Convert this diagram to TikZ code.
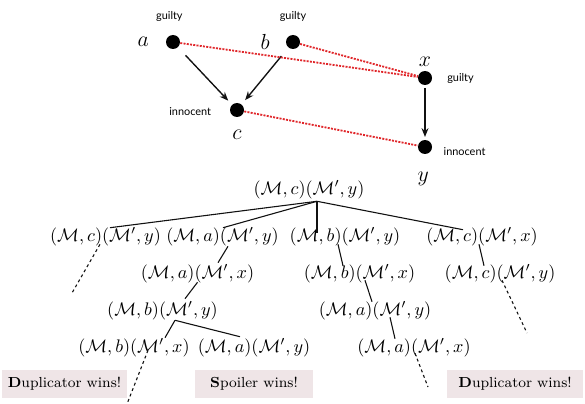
\documentclass[tikz,border=0pt]{standalone}
\usepackage{fontspec}
\usepackage{amsmath}
\usepackage{amssymb}
\usepackage{tikz}
\usetikzlibrary{arrows.meta, positioning, calc}
\newfontfamily\tagfont{Lato}
\definecolor{dotline}{HTML}{E0262A}
\definecolor{winfill}{HTML}{EFE5E7}
\definecolor{darkgray}{HTML}{111111}
\tikzset{
  elem/.style={
    circle, fill=black, draw=none,
    minimum size=7.7pt, inner sep=0pt,
  },
  tag/.style={
    inner sep=0pt, font=\tagfont\fontsize{6}{7}\selectfont,
  },
  var/.style={
    inner sep=0pt, font=\large,
  },
  conf/.style={
    inner sep=1pt, font=\normalsize,
  },
  winbox/.style={
    rectangle, fill=winfill, draw=none,
    minimum width=65pt, minimum height=15.4pt,
    text centered, font=\footnotesize,
  },
  arrow/.style={-{Stealth[length=4.8pt,width=3.8pt]}, line width=0.75pt, color=darkgray},
  match/.style={dotline, line width=1pt, dash pattern=on 1.1pt off 0.7pt},
  edge/.style={line width=0.6pt, color=darkgray},
  more/.style={line width=0.6pt, color=darkgray, dash pattern=on 1.6pt off 1.6pt},
}

\begin{document}
\begin{tikzpicture}[x=0.55pt,y=-0.55pt]
  \useasboundingbox (0,0) rectangle (585,404);
  \node[elem] (a) at (173,42) {};
  \node[elem] (b) at (293,42) {};
  \node[elem] (c) at (237,110) {};
  \node[elem] (x) at (425,78) {};
  \node[elem] (y) at (425,147) {};
  \node[tag,above=7pt of a,xshift=-2pt] {guilty};
  \node[tag,above=7pt of b] {guilty};
  \node[tag,right=8pt of x] {guilty};
  \node[tag,left=10pt of c,yshift=-1pt] {innocent};
  \node[tag,right=6pt of y,yshift=-2.7pt] {innocent};
  \node[var,left=9pt of a] {$a$};
  \node[var,left=8.5pt of b] {$b$};
  \node[var,below=7pt of c] {$c$};
  \node[var,above=2pt of x] {$x$};
  \node[var,below=9.5pt of y,xshift=-1pt] {$y$};
  \draw[arrow,shorten <=6pt,shorten >=3pt] (a)--(c);
  \draw[arrow,shorten <=6pt,shorten >=3pt] (b)--(c);
  \draw[arrow,shorten <=1.5pt,shorten >=1.5pt] (x)--(y);
  \draw[match] (a)--(x);
  \draw[match] (b)--(x);
  \draw[match] (c)--(y);

  \node[conf] (root) at (309,190) {$(\mathcal{M},c)(\mathcal{M}',y)$};
  \node[conf] (ca) at (105.5,237) {$(\mathcal{M},c)(\mathcal{M}',y)$};
  \node[conf] (aa) at (222.5,237) {$(\mathcal{M},a)(\mathcal{M}',y)$};
  \node[conf] (ba) at (345,237) {$(\mathcal{M},b)(\mathcal{M}',y)$};
  \node[conf] (cx) at (482,237) {$(\mathcal{M},c)(\mathcal{M}',x)$};
  \node[conf] (ax) at (197.5,274) {$(\mathcal{M},a)(\mathcal{M}',x)$};
  \node[conf] (bx) at (359.5,274) {$(\mathcal{M},b)(\mathcal{M}',x)$};
  \node[conf] (cy) at (500,274) {$(\mathcal{M},c)(\mathcal{M}',y)$};
  \node[conf] (by) at (162.5,311) {$(\mathcal{M},b)(\mathcal{M}',y)$};
  \node[conf] (ay) at (375,311) {$(\mathcal{M},a)(\mathcal{M}',y)$};
  \node[conf] (bxx) at (134,348) {$(\mathcal{M},b)(\mathcal{M}',x)$};
  \node[conf] (ayy) at (254,348) {$(\mathcal{M},a)(\mathcal{M}',y)$};
  \node[conf] (axx) at (414,348) {$(\mathcal{M},a)(\mathcal{M}',x)$};
  \node[winbox] (dupl) at (64.5,384) {\textbf{D}uplicator wins!};
  \node[winbox] (spoil) at (254,384) {\textbf{S}poiler wins!};
  \node[winbox,minimum width=75pt] (dupr) at (515,384) {\textbf{D}uplicator wins!};
  \coordinate (rj) at ($(root.south)+(8,0)$);
  \coordinate (byj) at ($(by.south)+(12.5,-2)$);
  \coordinate (caend) at (72,293);
  \coordinate (cyend) at (527,333);
  \coordinate (bxxend) at (127,404);
  \coordinate (axxend) at (428,387);
  \draw[edge] (rj)--($(ca.north)+(4.5,2)$);
  \draw[edge] (rj)--($(aa.north)+(0.5,2)$);
  \draw[edge] (rj)--($(ba.north)+(-28,7)$);
  \draw[edge] (rj)--($(cx.north)+(-19,4)$);
  \draw[edge] ($(aa.south)+(5.5,-2)$)--($(ax.north)+(20.5,0)$);
  \draw[edge] ($(ba.south)+(-7,-4)$)--($(bx.north)+(-16.5,3)$);
  \draw[edge] ($(cx.south)+(-3,-4)$)--($(cy.north)+(-16,3)$);
  \draw[edge] ($(ax.south)+(0,-3)$)--($(by.north)+(22.5,-1)$);
  \draw[edge] ($(bx.south)+(5.5,-5)$)--($(ay.north)+(-3,2)$);
  \draw[edge] (byj)--($(bxx.north)+(31,1)$);
  \draw[edge] (byj)--($(ayy.north)+(-14,0)$);
  \draw[edge] ($(ay.south)+(15,-5)$)--($(axx.north)+(-19,2)$);
  \draw[more] ($(ca.south)+(-5.5,-4)$)--(caend);
  \draw[more] ($(cy.south)+(2,-5)$)--(cyend);
  \draw[more] ($(bxx.south)+(14,-9)$)--(bxxend);
  \draw[more] ($(axx.south)+(1,-6)$)--(axxend);
\end{tikzpicture}
\end{document}
